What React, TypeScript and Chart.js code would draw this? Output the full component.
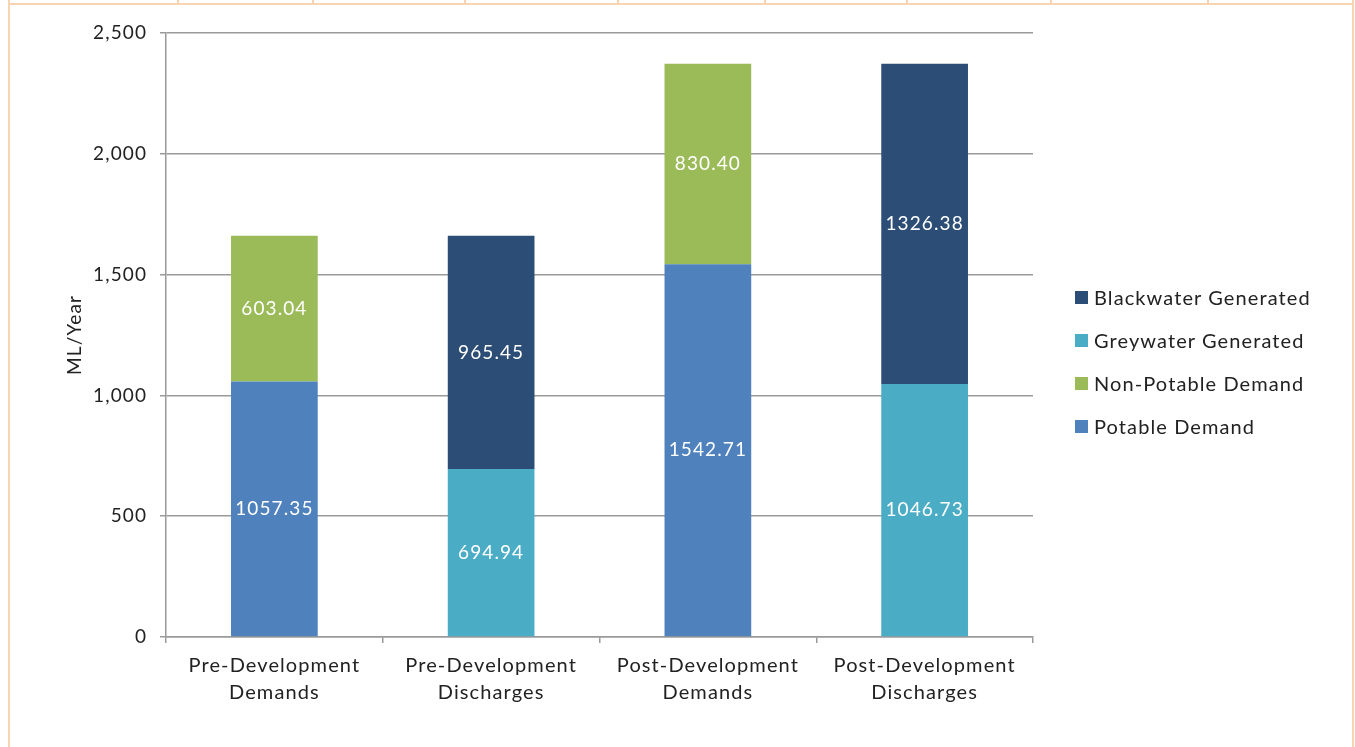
import React, { useEffect, useRef } from "react";
import { Chart, registerables } from "chart.js";

Chart.register(...registerables);

const categories: string[][] = [
  ["Pre-Development", "Demands"],
  ["Pre-Development", "Discharges"],
  ["Post-Development", "Demands"],
  ["Post-Development", "Discharges"],
];
const seriesNames = ["Potable Demand", "Non-Potable Demand", "Greywater Generated", "Blackwater Generated"];
const potable = [1057.35, null, 1542.71, null];
const nonPotable = [603.04, null, 830.4, null];
const greywater = [null, 694.94, null, 1046.73];
const blackwater = [null, 965.45, null, 1326.38];
const seriesColors = ["#4F81BD", "#9BBB59", "#4BACC6", "#2C4D75"];
const yMin = 0;
const yMax = 2500;
const yStep = 500;
const yTitle = "ML/Year";
const topTicksX = [177, 312, 464, 617, 764, 906, 1050, 1207];

const FONT = "Lato, sans-serif";
const SPACING = "1.1px";

const spacingPlugin = {
  id: "spacing",
  beforeUpdate(chart: any) {
    chart.ctx.letterSpacing = SPACING;
  },
  beforeDraw(chart: any) {
    chart.ctx.letterSpacing = SPACING;
  },
};

const labelPlugin = {
  id: "segLabels",
  afterDatasetsDraw(chart: any) {
    const ctx = chart.ctx;
    ctx.save();
    ctx.letterSpacing = SPACING;
    ctx.fillStyle = "#ffffff";
    ctx.font = `19px ${FONT}`;
    ctx.textAlign = "center";
    ctx.textBaseline = "middle";
    chart.data.datasets.forEach((ds: any, i: number) => {
      const meta = chart.getDatasetMeta(i);
      meta.data.forEach((el: any, j: number) => {
        const v = ds.data[j];
        if (v === null || v === undefined) return;
        const y = (el.y + el.base) / 2;
        ctx.fillText(v.toFixed(2), el.x, y);
      });
    });
    ctx.restore();
  },
};

export default function App() {
  const ref = useRef<HTMLCanvasElement>(null);
  useEffect(() => {
    if (!ref.current) return;
    const dataArrays = [potable, nonPotable, greywater, blackwater];
    const chart = new Chart(ref.current, {
      type: "bar",
      data: {
        labels: categories,
        datasets: dataArrays.map((d, i) => ({
          label: seriesNames[i],
          data: d as any,
          backgroundColor: seriesColors[i],
          borderWidth: 0,
          barPercentage: 0.4,
          categoryPercentage: 1,
          stack: "s",
        })),
      },
      options: {
        animation: false,
        responsive: false,
        maintainAspectRatio: false,
        layout: { padding: { left: 63, right: 322, top: 33, bottom: 0 } },
        plugins: { legend: { display: false }, tooltip: { enabled: false } },
        scales: {
          x: {
            stacked: true,
            grid: {
              drawOnChartArea: false,
              drawTicks: true,
              tickLength: 6,
              color: "#9a9a9a",
              lineWidth: 1.5,
              offset: true,
            },
            border: { color: "#9a9a9a", width: 1.5 },
            ticks: { color: "#222", font: { family: FONT, size: 20, lineHeight: 1.35 }, padding: 9, maxRotation: 0 },
            afterFit(scale: any) {
              scale.height = 110;
            },
          },
          y: {
            stacked: true,
            min: yMin,
            max: yMax,
            ticks: {
              stepSize: yStep,
              color: "#222",
              font: { family: FONT, size: 19 },
              padding: 13,
              callback: (v: any) => Number(v).toLocaleString("en-US"),
            },
            grid: { color: "#9a9a9a", lineWidth: 1.5, tickLength: 6 },
            border: { color: "#9a9a9a", width: 1.5 },
            title: { display: true, text: yTitle, color: "#222", font: { family: FONT, size: 19 }, padding: 0 },
            afterFit(scale: any) {
              scale.width = 103;
            },
          },
        },
      },
      plugins: [spacingPlugin, labelPlugin],
    });
    return () => chart.destroy();
  }, []);

  const legendOrder = [3, 2, 1, 0];
  const orange = "#F8D4B0";
  return (
    <div style={{ position: "absolute", left: 0, top: 0, width: 1355, height: 747, background: "#fff", overflow: "hidden" }}>
      <div style={{ position: "absolute", left: 8, top: 3, width: 1346, height: 2, background: orange }} />
      <div style={{ position: "absolute", left: 8, top: 0, width: 2, height: 747, background: orange }} />
      <div style={{ position: "absolute", left: 1352, top: 0, width: 2, height: 747, background: orange }} />
      {topTicksX.map((x) => (
        <div key={x} style={{ position: "absolute", left: x, top: 0, width: 2, height: 4, background: orange }} />
      ))}
      <canvas ref={ref} width={1355} height={747} style={{ position: "absolute", left: 0, top: 0 }} />
      {legendOrder.map((idx, k) => (
        <div
          key={idx}
          style={{
            position: "absolute",
            left: 1075,
            top: 297 + k * 43 - 12,
            height: 24,
            display: "flex",
            alignItems: "center",
            fontFamily: FONT,
            fontSize: 20,
            letterSpacing: SPACING,
            color: "#222",
            whiteSpace: "nowrap",
          }}
        >
          <span style={{ display: "inline-block", width: 13, height: 13, background: seriesColors[idx], marginRight: 6 }} />
          <span>{seriesNames[idx]}</span>
        </div>
      ))}
    </div>
  );
}
